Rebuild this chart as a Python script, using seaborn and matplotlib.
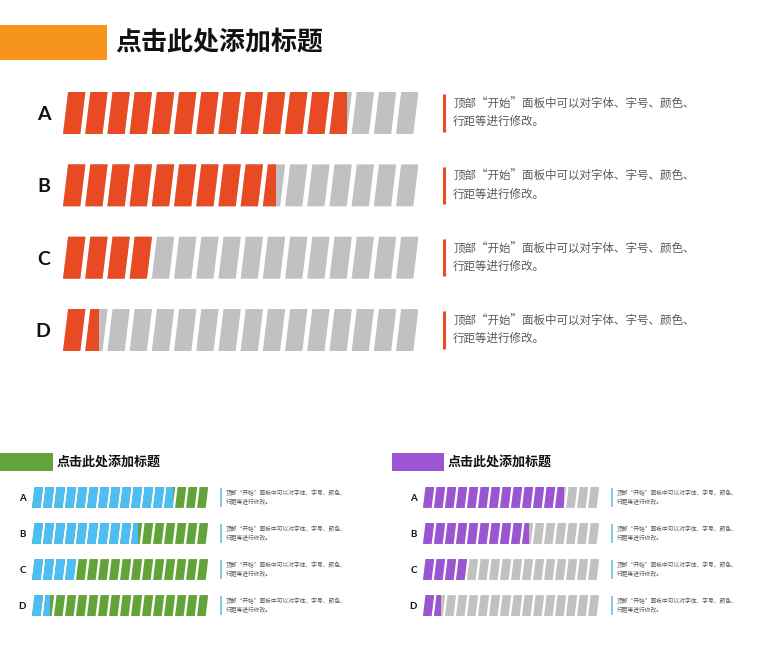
import numpy as np
import pandas as pd
import matplotlib
matplotlib.use("Agg")
import matplotlib.pyplot as plt
from matplotlib.patches import Polygon, Rectangle
import seaborn as sns

# Datos del grafico
categorias = ['A', 'B', 'C', 'D']
valores = [0.80, 0.60, 0.25, 0.10]   # fraccion rellena de cada barra
n_segmentos = 16
titulo = '点击此处添加标题'
descripcion = '顶部“开始”面板中可以对字体、字号、颜色、\n行距等进行修改。'

sns.set_theme(style='white')
plt.rcParams['font.family'] = ['Noto Sans CJK SC', 'DejaVu Sans']

W, H = 780, 660
fig = plt.figure(figsize=(7.8, 6.6), dpi=100)
fig.patch.set_facecolor('white')


def caja(x0, y0, x1, y1):
    # rectangulo en pixeles de la figura -> fraccion
    return [x0 / W, 1 - y1 / H, (x1 - x0) / W, (y1 - y0) / H]


def encabezado(x0, x1, y0, y1, color, tam):
    fig.add_artist(Rectangle((x0 / W, 1 - y1 / H), (x1 - x0) / W, (y1 - y0) / H,
                             transform=fig.transFigure, facecolor=color, edgecolor='none'))
    fig.text((x1 + 8 * tam / 19) / W, 1 - (y0 + y1) / 2 / H, titulo, fontsize=tam,
             fontweight='heavy', color='#111111', va='center', ha='left')


def panel(rect, color_lleno, color_resto, color_linea, escala):
    ax = fig.add_axes(rect)
    df = pd.DataFrame({'cat': categorias, 'val': np.array(valores) * n_segmentos})
    # las barras de seaborn sirven de mascara para el relleno
    sns.barplot(data=df, x='val', y='cat', ax=ax, width=0.8, color='white')
    mascaras = list(ax.patches)
    for m in mascaras:
        m.set_visible(False)

    alto, ancho, incl = 0.58, 0.78, 0.23
    for i, v in enumerate(valores):
        y_abajo, y_arriba = i + alto / 2, i - alto / 2
        for k in range(n_segmentos):
            pts = [(k, y_abajo), (k + ancho, y_abajo),
                   (k + ancho + incl, y_arriba), (k + incl, y_arriba)]
            ax.add_patch(Polygon(pts, closed=True, facecolor=color_resto, edgecolor='none'))
            p = Polygon(pts, closed=True, facecolor=color_lleno, edgecolor='none')
            ax.add_patch(p)
            p.set_clip_path(mascaras[i])
        # texto descriptivo con linea vertical
        ax.plot([17.16, 17.16], [i - 0.26, i + 0.26], color=color_linea,
                lw=2.2 * escala, solid_capstyle='butt', clip_on=False)
        ax.text(17.57, i, descripcion, va='center', ha='left', fontsize=8.3 * escala,
                color='#595959', linespacing=1.45, clip_on=False)

    ax.set_xlim(0, n_segmentos - 0.01)
    ax.set_ylim(3 + alto / 2, -alto / 2)
    ax.set_xlabel('')
    ax.set_ylabel('')
    ax.set_xticks([])
    ax.tick_params(axis='y', length=0, pad=9 * escala, labelsize=14 * escala)
    for lbl in ax.get_yticklabels():
        lbl.set_fontweight('bold')
        lbl.set_family(['Lato', 'DejaVu Sans'])
        lbl.set_color('#111111')
    ax.set_facecolor('none')
    sns.despine(ax=ax, left=True, bottom=True)
    return ax


# Panel principal
encabezado(0, 107, 25, 60, '#F7941D', 18.7)
panel(caja(63, 92, 418, 351), '#E84A23', '#C1C1C1', '#E84A23', 1.0)

# Panel inferior izquierdo
encabezado(0, 53, 453, 471, '#62A33A', 9.4)
panel(caja(32, 487, 208, 616), '#4DBEF5', '#62A33A', '#5BBDE0', 0.5)

# Panel inferior derecho
encabezado(392, 444, 453, 471, '#9B55D3', 9.4)
panel(caja(423, 487, 599, 616), '#9B55D3', '#C1C1C1', '#5BB7EA', 0.5)

fig.savefig('out.png', dpi=100)
